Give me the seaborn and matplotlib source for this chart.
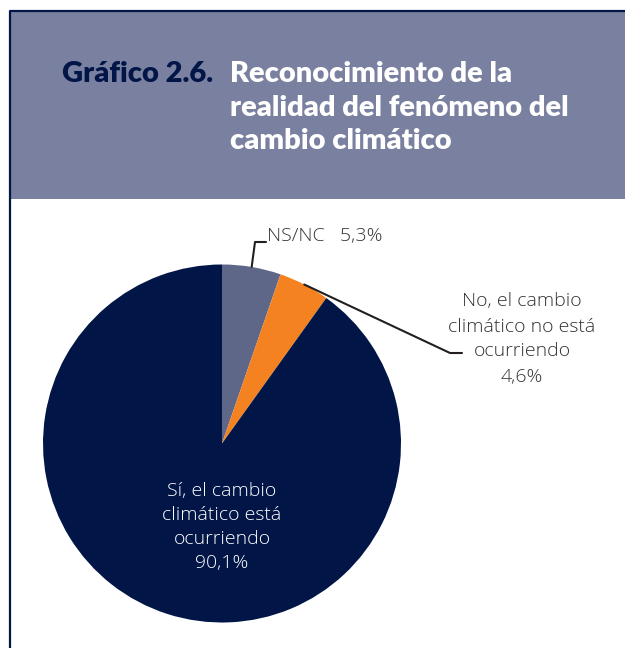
import numpy as np
import matplotlib.pyplot as plt
import seaborn as sns
from matplotlib.patches import Rectangle

# datos del gráfico
categorias = ["NS/NC", "No, el cambio\nclimático no está\nocurriendo", "Sí, el cambio\nclimático está\nocurriendo"]
valores = [5.3, 4.6, 90.1]
etiquetas_valor = ["5,3%", "4,6%", "90,1%"]
colores = ["#5f6789", "#f58220", "#011547"]

titulo_num = "Gráfico 2.6."
titulo = "Reconocimiento de la\nrealidad del fenómeno del\ncambio climático"

sns.set_theme(style="white")
plt.rcParams["font.family"] = ["Open Sans", "DejaVu Sans"]

W, H = 625, 648
fig = plt.figure(figsize=(W / 100, H / 100), dpi=100)
ax = fig.add_axes([0, 0, 1, 1])

# centro y radio del pastel en pixeles (y hacia arriba)
cx, cy, r = 222, H - 443.5, 179

wedges, _ = ax.pie(valores, colors=colores, startangle=90, counterclock=False,
                   center=(cx, cy), radius=r, frame=False,
                   wedgeprops=dict(linewidth=0))

ax.set_xlim(0, W)
ax.set_ylim(0, H)
ax.set_aspect("equal")
ax.axis("off")

# marco y cabecera
ax.add_patch(Rectangle((10, H - 199), W, 187, facecolor="#7a80a0", edgecolor="none", zorder=0))
ax.plot([9.5, 9.5, W], [0, H - 10.5, H - 10.5], color="#011547", lw=1.6, solid_capstyle="butt")

fam_tit = ["Lato", "DejaVu Sans"]
ax.text(62, H - 61, titulo_num, color="#011547", fontsize=21, fontweight="heavy",
        family=fam_tit, va="top", ha="left")
ax.text(230, H - 61, titulo, color="white", fontsize=21, fontweight="heavy",
        family=fam_tit, va="top", ha="left", linespacing=1.36)

def borde(w):
    ang = np.deg2rad((w.theta1 + w.theta2) / 2)
    return cx + r * np.cos(ang), cy + r * np.sin(ang)

txt_col = "#333333"
lin_col = "#231f20"

# NS/NC
x0, y0 = borde(wedges[0])
ax.plot([x0, 255, 266], [y0, H - 242, H - 242], color=lin_col, lw=1.5)
ax.text(267, H - 236, categorias[0] + "   " + etiquetas_valor[0], color=txt_col,
        fontsize=14, fontweight="light", va="center", ha="left")

# No
x1, y1 = borde(wedges[1])
ax.plot([x1, 450, 462], [y1, H - 353, H - 353], color=lin_col, lw=1.5)
ax.text(522, H - 339, categorias[1] + "\n" + etiquetas_valor[1], color=txt_col,
        fontsize=14, fontweight="light", va="center", ha="center", linespacing=1.5)

# Sí
ax.text(cx, H - 527, categorias[2] + "\n" + etiquetas_valor[2], color="white",
        fontsize=14, fontweight="light", va="center", ha="center", linespacing=1.45)

fig.savefig("out.png", dpi=100, facecolor="white")
